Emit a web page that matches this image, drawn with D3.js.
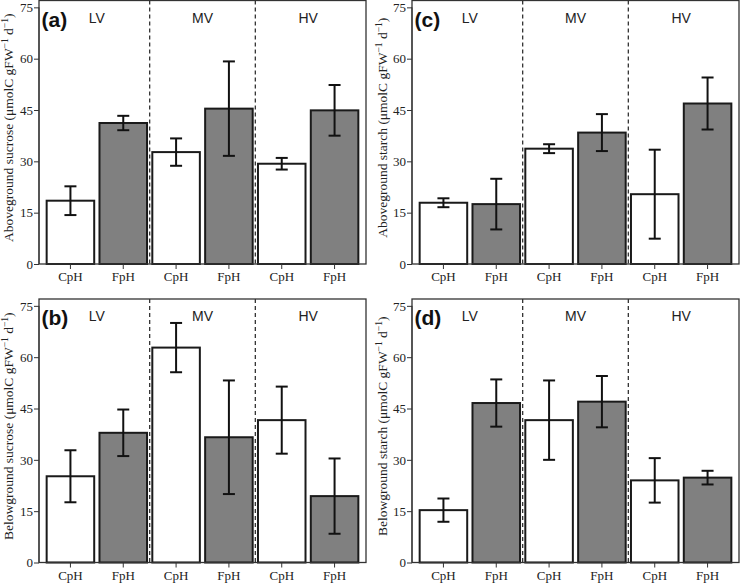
<!DOCTYPE html>
<html>
<head>
<meta charset="utf-8">
<script src="https://cdn.jsdelivr.net/npm/d3@7"></script>
<style>
  body { margin: 0; background: #fff; }
  svg { display: block; }
</style>
</head>
<body>
<svg id="chart" width="740" height="583"></svg>
<script>
// categories
const groups = ['LV', 'MV', 'HV'];
const treatments = ['CpH', 'FpH'];
const yTicks = [0, 15, 30, 45, 60, 75];

// bar order: LV-CpH, LV-FpH, MV-CpH, MV-FpH, HV-CpH, HV-FpH
const aboveSucrose = [18.5, 41.2, 32.7, 45.4, 29.3, 44.9];
const aboveSucroseErr = [4.2, 2.1, 4.0, 13.8, 1.7, 7.4];
const belowSucrose = [25.2, 37.9, 62.8, 36.6, 41.6, 19.4];
const belowSucroseErr = [7.6, 6.8, 7.2, 16.6, 9.8, 11.0];
const aboveStarch = [17.9, 17.5, 33.7, 38.4, 20.4, 46.9];
const aboveStarchErr = [1.3, 7.4, 1.3, 5.4, 13.0, 7.6];
const belowStarch = [15.3, 46.6, 41.6, 47.0, 24.0, 24.8];
const belowStarchErr = [3.4, 6.9, 11.6, 7.5, 6.5, 2.0];

const panels = [
  { label: '(a)', title: 'Aboveground sucrose', values: aboveSucrose, errs: aboveSucroseErr, col: 0, row: 0 },
  { label: '(b)', title: 'Belowground sucrose', values: belowSucrose, errs: belowSucroseErr, col: 0, row: 1 },
  { label: '(c)', title: 'Aboveground starch', values: aboveStarch, errs: aboveStarchErr, col: 1, row: 0 },
  { label: '(d)', title: 'Belowground starch', values: belowStarch, errs: belowStarchErr, col: 1, row: 1 },
];

const colLeft = [39, 412];
const colTitleX = [12.5, 387];
const rowTop = [0.5, 299];
const plotW = 327;
const plotH = 263.5;

const svg = d3.select('#chart');
const keys = [];
groups.forEach(g => treatments.forEach(t => keys.push(g + '-' + t)));

panels.forEach(p => {
  const g = svg.append('g')
    .attr('transform', `translate(${colLeft[p.col]},${rowTop[p.row]})`);

  const x = d3.scaleBand().domain(keys).range([0, plotW])
    .paddingInner(0.1).paddingOuter(0.145);
  const y = d3.scaleLinear().domain([0, 77]).range([plotH, 0]);

  const data = keys.map((k, i) => ({
    key: k, group: k.split('-')[0], trt: k.split('-')[1],
    value: p.values[i], err: p.errs[i]
  }));

  // bars
  g.selectAll('.bar').data(data).enter().append('rect')
    .attr('class', 'bar')
    .attr('x', d => x(d.key))
    .attr('width', x.bandwidth())
    .attr('y', d => y(d.value))
    .attr('height', d => y(0) - y(d.value))
    .attr('fill', d => d.trt === 'CpH' ? '#ffffff' : '#808080')
    .attr('stroke', '#1a1a1a')
    .attr('stroke-width', 2);

  // error bars
  const cap = 6;
  const eb = g.selectAll('.err').data(data).enter().append('g')
    .attr('class', 'err')
    .attr('stroke', '#111')
    .attr('stroke-width', 2);
  eb.append('line')
    .attr('x1', d => x(d.key) + x.bandwidth() / 2)
    .attr('x2', d => x(d.key) + x.bandwidth() / 2)
    .attr('y1', d => y(d.value + d.err))
    .attr('y2', d => y(d.value - d.err));
  eb.append('line')
    .attr('x1', d => x(d.key) + x.bandwidth() / 2 - cap)
    .attr('x2', d => x(d.key) + x.bandwidth() / 2 + cap)
    .attr('y1', d => y(d.value + d.err))
    .attr('y2', d => y(d.value + d.err));
  eb.append('line')
    .attr('x1', d => x(d.key) + x.bandwidth() / 2 - cap)
    .attr('x2', d => x(d.key) + x.bandwidth() / 2 + cap)
    .attr('y1', d => y(d.value - d.err))
    .attr('y2', d => y(d.value - d.err));

  // dashed separators between groups
  [1, 3].forEach(i => {
    const sx = (x(keys[i]) + x.bandwidth() + x(keys[i + 1])) / 2;
    g.append('line')
      .attr('x1', sx).attr('x2', sx)
      .attr('y1', 0).attr('y2', plotH)
      .attr('stroke', '#333')
      .attr('stroke-width', 1.3)
      .attr('stroke-dasharray', '4,3');
  });

  // frame
  g.append('rect')
    .attr('x', 0).attr('y', 0)
    .attr('width', plotW).attr('height', plotH)
    .attr('fill', 'none')
    .attr('stroke', '#333')
    .attr('stroke-width', 1.3);

  // y axis
  const yAxis = g.append('g')
    .call(d3.axisLeft(y).tickValues(yTicks).tickSize(5).tickPadding(1).tickSizeOuter(0));
  yAxis.select('.domain').attr('d', `M0,${y(0)}V${y(75)}`).attr('stroke', '#333');
  yAxis.selectAll('.tick line').attr('stroke', '#333');
  yAxis.selectAll('.tick text')
    .attr('font-family', '"Liberation Serif", "Times New Roman", serif')
    .attr('font-size', 13)
    .attr('fill', '#222');

  // x axis
  const xAxis = g.append('g')
    .attr('transform', `translate(0,${plotH})`)
    .call(d3.axisBottom(x).tickFormat(k => k.split('-')[1]).tickSize(5).tickPadding(3).tickSizeOuter(0));
  xAxis.select('.domain').remove();
  xAxis.selectAll('.tick line').attr('stroke', '#333');
  xAxis.selectAll('.tick text')
    .attr('font-family', '"Liberation Serif", "Times New Roman", serif')
    .attr('font-size', 13)
    .attr('fill', '#222');

  // group labels
  groups.forEach(gr => {
    const cx = (x(gr + '-CpH') + x(gr + '-FpH') + x.bandwidth()) / 2;
    g.append('text')
      .attr('x', cx).attr('y', 22.2)
      .attr('text-anchor', 'middle')
      .attr('font-family', '"Liberation Sans", Arial, sans-serif')
      .attr('font-size', 14)
      .attr('fill', '#222')
      .text(gr);
  });

  // panel label
  g.append('text')
    .attr('x', 2.5).attr('y', 26)
    .attr('font-family', '"Liberation Sans", Arial, sans-serif')
    .attr('font-weight', 'bold')
    .attr('font-size', 21)
    .attr('fill', '#111')
    .text(p.label);

  // y title
  const cy = plotH / 2 - 4.5;
  const t = svg.append('text')
    .attr('transform', `translate(${colTitleX[p.col]},${rowTop[p.row] + cy}) rotate(-90)`)
    .attr('text-anchor', 'middle')
    .attr('font-family', '"Liberation Serif", "Times New Roman", serif')
    .attr('font-size', 13.5)
    .attr('fill', '#222');
  t.append('tspan').text(p.title + ' (\u03BCmolC gFW');
  t.append('tspan').attr('dy', -5).attr('font-size', 9.5).text('\u22121');
  t.append('tspan').attr('dy', 5).text(' d');
  t.append('tspan').attr('dy', -5).attr('font-size', 9.5).text('\u22121');
  t.append('tspan').attr('dy', 5).text(')');
});
</script>
</body>
</html>
